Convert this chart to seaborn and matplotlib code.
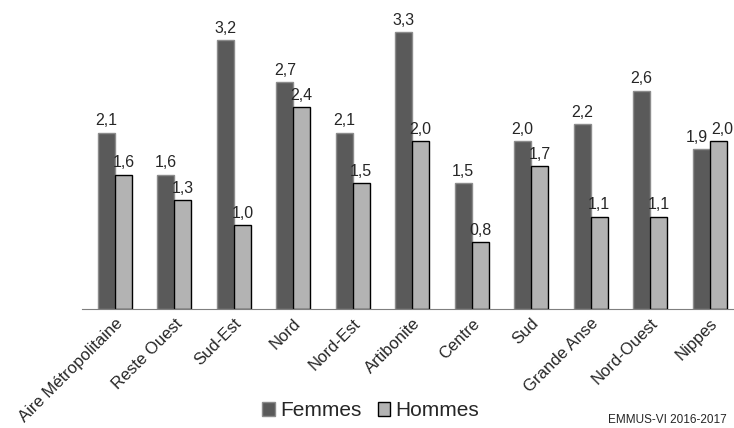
import numpy as np
import pandas as pd
import matplotlib
matplotlib.use("Agg")
import matplotlib.pyplot as plt
import seaborn as sns

regions = ["Aire Métropolitaine", "Reste Ouest", "Sud-Est", "Nord", "Nord-Est",
           "Artibonite", "Centre", "Sud", "Grande Anse", "Nord-Ouest", "Nippes"]
femmes = [2.1, 1.6, 3.2, 2.7, 2.1, 3.3, 1.5, 2.0, 2.2, 2.6, 1.9]
hommes = [1.6, 1.3, 1.0, 2.4, 1.5, 2.0, 0.8, 1.7, 1.1, 1.1, 2.0]
series = ["Femmes", "Hommes"]
colors = ["#5a5a5a", "#b3b3b3"]
edges = ["#8c8c8c", "#000000"]

df = pd.DataFrame({
    "region": regions * 2,
    "valeur": femmes + hommes,
    "sexe": ["Femmes"] * len(regions) + ["Hommes"] * len(regions),
})

sns.set_style("white")
plt.rcParams["font.family"] = ["Liberation Sans", "DejaVu Sans"]

fig = plt.figure(figsize=(7.34, 4.28), dpi=100)
ax = fig.add_axes([0.112, 0.278, 0.888, 0.675])

sns.barplot(data=df, x="region", y="valeur", hue="sexe", order=regions,
            hue_order=series, palette=colors, width=0.57, saturation=1,
            linewidth=1, legend=True, ax=ax)

for i, cont in enumerate(ax.containers):
    for p in cont:
        p.set_edgecolor(edges[i])
    vals = femmes if i == 0 else hommes
    txts = ax.bar_label(cont, labels=[f"{v:.1f}".replace(".", ",") for v in vals],
                        padding=3, fontsize=11.5)
    # Nippes : les deux étiquettes se touchent, on les place de part et d'autre
    last = cont[-1]
    mid = last.get_x() + (last.get_width() if i == 0 else 0)
    txts[-1].set_ha("right" if i == 0 else "left")
    txts[-1].xy = (mid, last.get_height())
    txts[-1].set_position((-1 if i == 0 else 1, 3))

ax.set_ylim(0, 3.44)
ax.set_xlim(-0.55, 10.41)
ax.set_yticks([])
ax.set_xlabel("")
ax.set_ylabel("")
for s in ["top", "right", "left"]:
    ax.spines[s].set_visible(False)
ax.spines["bottom"].set_color("#7f7f7f")
ax.tick_params(axis="x", length=0, pad=5)
plt.setp(ax.get_xticklabels(), rotation=45, ha="right", rotation_mode="anchor",
         fontsize=12)

handles, labels = ax.get_legend_handles_labels()
ax.get_legend().remove()
for h, e in zip(handles, edges):
    h.set_edgecolor(e)
fig.legend(handles, labels, loc="center", bbox_to_anchor=(0.505, 0.04),
           ncol=2, frameon=False, fontsize=15, handlelength=0.6,
           handleheight=0.6, handletextpad=0.25, columnspacing=0.8)

fig.text(0.99, 0.005, "EMMUS-VI 2016-2017", ha="right", va="bottom", fontsize=8.5)

fig.savefig("out.png", dpi=100)
